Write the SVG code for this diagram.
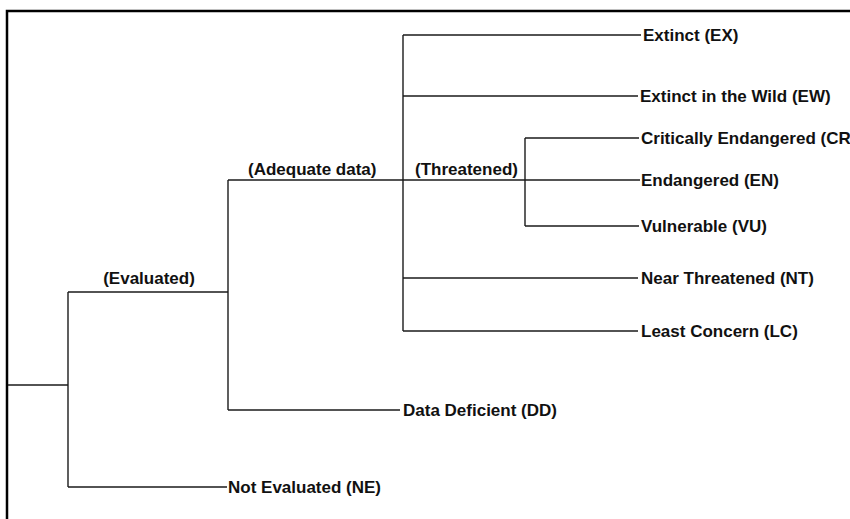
<svg xmlns="http://www.w3.org/2000/svg" width="850" height="519" viewBox="0 0 850 519">
  <style>
    .bg { fill: #ffffff; }
    .frame { fill: none; stroke: #000000; stroke-width: 2.5; }
    .edge { fill: none; stroke: #1a1a1a; stroke-width: 1.4; }
    .lbl { font-family: "Liberation Sans", Arial, sans-serif; font-weight: bold; font-size: 17px; fill: #111111; }
  </style>
  <rect class="bg" x="0" y="0" width="850" height="519"/>
  <path class="frame" d="M7,522 V11 H851"/>

  <g id="connectors">
    <!-- root -->
    <path class="edge" d="M8,385 H68"/>
    <path class="edge" d="M68,292 V487"/>
    <!-- evaluated / not evaluated -->
    <path class="edge" d="M68,292 H228"/>
    <path class="edge" d="M68,487 H227"/>
    <!-- adequate data / data deficient -->
    <path class="edge" d="M228,180 V410"/>
    <path class="edge" d="M228,180 H640"/>
    <path class="edge" d="M228,410 H400"/>
    <!-- categories -->
    <path class="edge" d="M403,35 V331"/>
    <path class="edge" d="M403,35 H641"/>
    <path class="edge" d="M403,96 H638"/>
    <path class="edge" d="M403,278 H638"/>
    <path class="edge" d="M403,331 H638"/>
    <!-- threatened subdivisions -->
    <path class="edge" d="M525,138 V226"/>
    <path class="edge" d="M525,138 H639"/>
    <path class="edge" d="M525,226 H639"/>
  </g>

  <g id="branch-evaluated"><text class="lbl" x="149" y="284" text-anchor="middle">(Evaluated)</text></g>
  <g id="branch-adequate"><text class="lbl" x="248" y="175">(Adequate data)</text></g>
  <g id="branch-threatened"><text class="lbl" x="415" y="175">(Threatened)</text></g>

  <g id="node-ex"><text class="lbl" x="643" y="41">Extinct (EX)</text></g>
  <g id="node-ew"><text class="lbl" x="640" y="102">Extinct in the Wild (EW)</text></g>
  <g id="node-cr"><text class="lbl" x="641" y="144">Critically Endangered (CR</text></g>
  <g id="node-en"><text class="lbl" x="641" y="186">Endangered (EN)</text></g>
  <g id="node-vu"><text class="lbl" x="641" y="232">Vulnerable (VU)</text></g>
  <g id="node-nt"><text class="lbl" x="641" y="284">Near Threatened (NT)</text></g>
  <g id="node-lc"><text class="lbl" x="641" y="337">Least Concern (LC)</text></g>
  <g id="node-dd"><text class="lbl" x="403" y="416">Data Deficient (DD)</text></g>
  <g id="node-ne"><text class="lbl" x="228" y="493">Not Evaluated (NE)</text></g>
</svg>
